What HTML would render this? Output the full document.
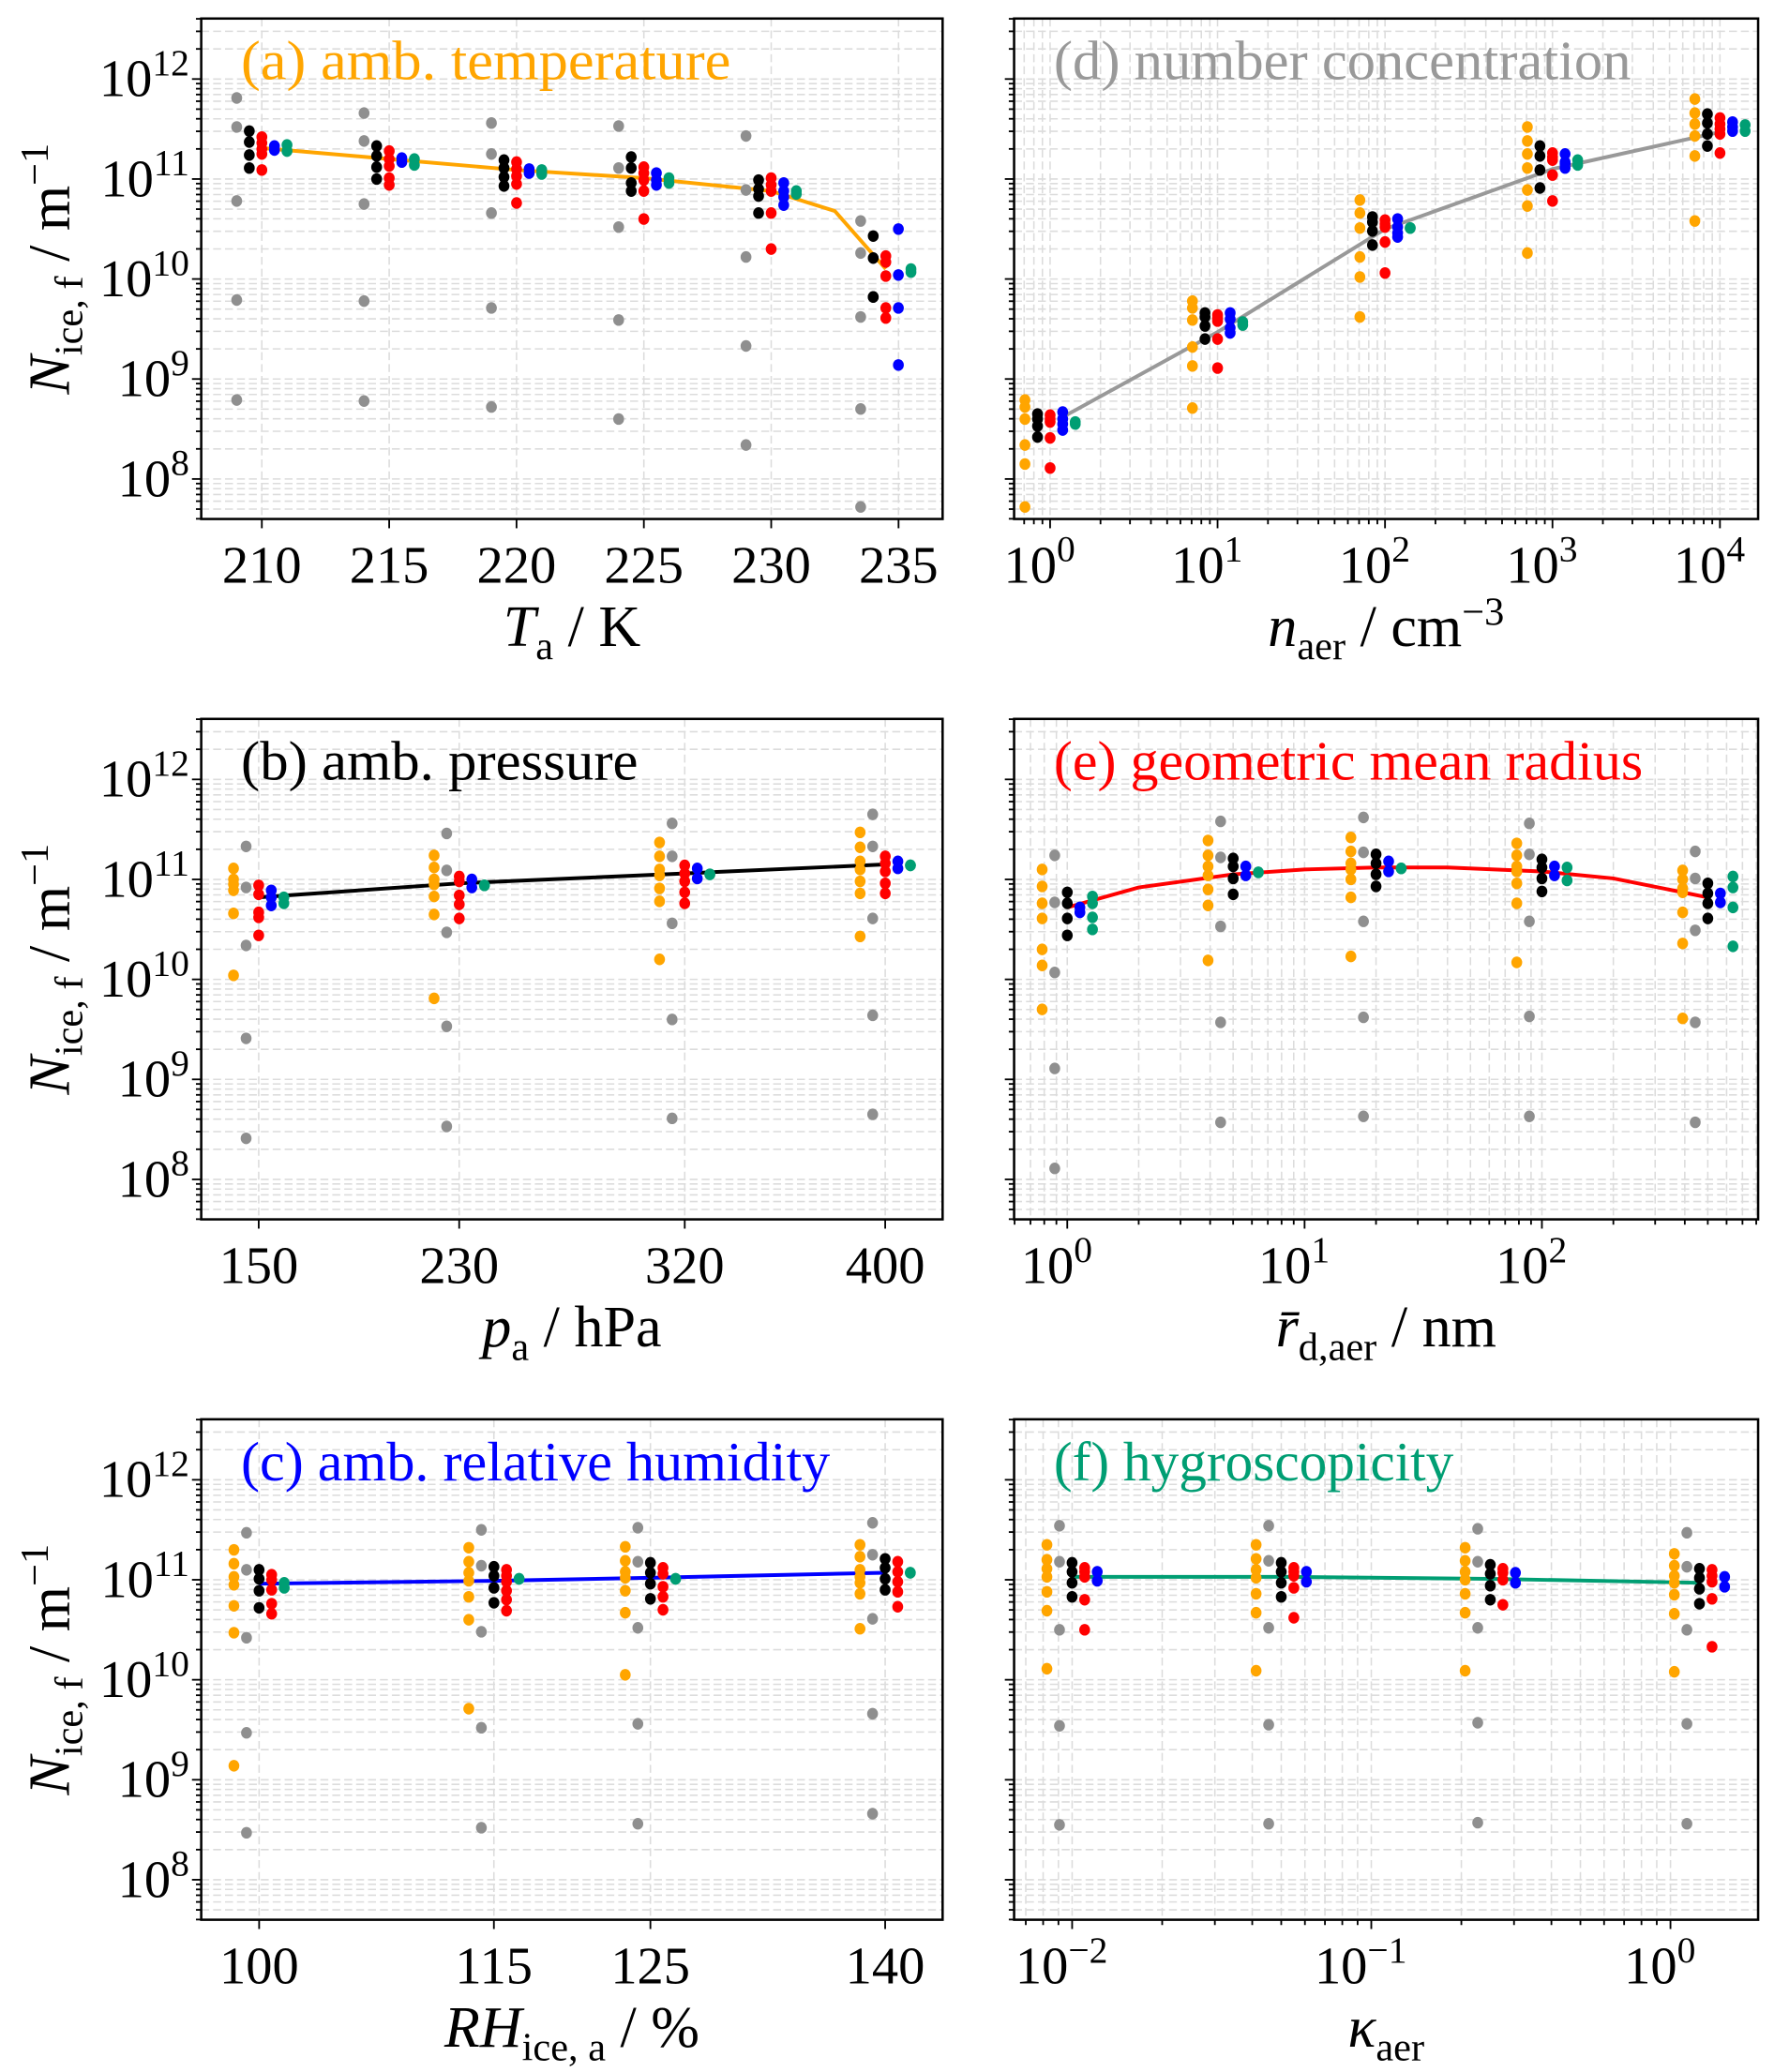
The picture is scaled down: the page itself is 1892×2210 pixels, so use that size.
<!DOCTYPE html>
<html><head><meta charset="utf-8"><style>
html,body{margin:0;padding:0;background:#fff}
svg{display:block}
text{font-family:"Liberation Serif","DejaVu Serif",serif}
</style></head><body>
<svg id="fig" xmlns="http://www.w3.org/2000/svg" width="1892" height="2210" viewBox="0 0 1340 1565" preserveAspectRatio="none"></svg>
<script>
// ---------- data (log10 of N_ice,f) ----------
const aCats=[210,215,220,225,230,234.5];
const aGray=[[11.81,11.52,10.78,9.79,8.79],[11.66,11.38,10.75,9.78,8.78],[11.56,11.25,10.66,9.71,8.72],[11.53,11.11,10.52,9.59,8.60],[11.43,10.89,10.22,9.33,8.34],[10.58,10.26,9.62,8.70,7.72]];
const aBlack=[[11.48,11.37,11.24,11.11],[11.33,11.23,11.12,11.0],[11.19,11.11,11.02,10.93],[11.22,11.11,10.96,10.88],[10.99,10.90,10.83,10.66],[10.43,10.21,9.82,9.82]];
const aRed=[[11.42,11.36,11.30,11.25,11.09],[11.28,11.20,11.13,11.01,10.94],[11.17,11.10,11.03,10.95,10.76],[11.12,11.06,10.99,10.88,10.60],[11.01,10.94,10.88,10.66,10.30],[10.23,10.17,10.03,9.71,9.61]];
const aBlue=[[11.33,11.29],[11.21,11.17],[11.10,11.06],[11.06,10.99,10.94],[10.96,10.88,10.82,10.74],[10.50,10.04,9.71,9.14]];
const aGreen=[[11.34,11.28],[11.20,11.14],[11.09,11.05],[11.01,10.96],[10.88,10.85],[10.10,10.07]];
const aLineX=[210,215,220,225,230,232.5,234.5];
const aLineY=[11.31,11.20,11.09,11.01,10.88,10.68,10.10];

const dCats=[1,10,100,1000,10000];
const dOrange=[[8.79,8.72,8.60,8.34,8.15,7.72],[9.78,9.71,9.59,9.32,9.13,8.71],[10.79,10.66,10.51,10.22,10.02,9.62],[11.52,11.38,11.25,11.11,10.89,10.73,10.26],[11.80,11.66,11.55,11.43,11.23,10.58]];
const dBlack=[[8.65,8.60,8.53,8.42],[9.66,9.62,9.53,9.40],[10.62,10.57,10.48,10.34],[11.33,11.23,11.09,10.91],[11.65,11.56,11.45,11.33]];
const dRed=[[8.64,8.60,8.57,8.41,8.11],[9.64,9.61,9.58,9.40,9.11],[10.59,10.55,10.52,10.37,10.06],[11.26,11.22,11.19,11.04,10.78],[11.61,11.55,11.50,11.45,11.26]];
const dBlue=[[8.67,8.60,8.55,8.49],[9.66,9.60,9.51,9.46],[10.60,10.52,10.46,10.42],[11.25,11.17,11.15,11.11],[11.57,11.52,11.48]];
const dGreen=[[8.57,8.55],[9.57,9.54],[10.51,10.51],[11.19,11.14],[11.54,11.48]];
const dLineX=[1.25,10,100,1000,10000];
const dLineY=[8.64,9.47,10.50,11.10,11.47];

const bCats=[150,230,320,400];
const bOrange=[[11.11,11.00,10.95,10.89,10.66,10.04],[11.24,11.12,11.00,10.95,10.83,10.65,9.81],[11.37,11.23,11.10,11.04,10.91,10.78,10.20],[11.47,11.32,11.18,11.10,10.98,10.86,10.43]];
const bGray=[[11.33,10.92,10.34,9.41,8.41],[11.46,11.09,10.47,9.53,8.53],[11.56,11.23,10.56,9.60,8.61],[11.65,11.33,10.61,9.64,8.65]];
const bRed=[[10.94,10.85,10.67,10.62,10.44],[11.03,10.98,10.84,10.75,10.61],[11.14,11.06,10.98,10.87,10.76],[11.23,11.16,11.08,10.96,10.86]];
const bBlue=[[10.89,10.82,10.74],[11.00,10.92],[11.11,11.01],[11.18,11.11]];
const bGreen=[[10.82,10.76],[10.94,10.94],[11.05,11.05],[11.14,11.14]];
const bLineX=[150,230,320,400];
const bLineY=[10.82,10.96,11.06,11.15];

const eCats=[1,5,20,100,500];
const eOrange=[[11.10,10.93,10.76,10.61,10.30,10.14,9.70],[11.39,11.24,11.13,11.04,10.90,10.74,10.19],[11.42,11.28,11.16,11.10,11.00,10.82,10.23],[11.36,11.24,11.13,11.08,10.96,10.76,10.17],[11.09,11.00,10.91,10.87,10.67,10.36,9.61]];
const eGray=[[11.24,10.77,10.07,9.11,8.11],[11.58,11.22,10.53,9.57,8.57],[11.62,11.27,10.58,9.62,8.63],[11.56,11.25,10.58,9.63,8.63],[11.28,11.01,10.49,9.57,8.57]];
const eBlack=[[10.87,10.76,10.61,10.44],[11.21,11.13,11.01,10.85],[11.25,11.16,11.05,10.93],[11.20,11.12,11.01,10.88],[10.96,10.86,10.76,10.61]];
const eBlue=[[10.72,10.67],[11.13,11.04],[11.18,11.08],[11.13,11.04],[10.86,10.77]];
const eGreen=[[10.83,10.76,10.62,10.50],[11.07,11.07],[11.11,11.11],[11.12,10.99],[11.03,10.92,10.72,10.33]];
const eLineX=[1,2,5,10,20,40,100,200,500];
const eLineY=[10.72,10.92,11.05,11.10,11.12,11.12,11.08,11.01,10.82];

const cCats=[100,115,125,140];
const cOrange=[[11.30,11.16,11.03,10.95,10.74,10.47,9.14],[11.32,11.18,11.07,10.99,10.83,10.60,9.71],[11.33,11.19,11.08,11.02,10.89,10.67,10.05],[11.35,11.23,11.10,11.03,10.97,10.86,10.51]];
const cGray=[[11.47,11.10,10.42,9.47,8.47],[11.50,11.14,10.48,9.52,8.52],[11.52,11.18,10.52,9.56,8.56],[11.57,11.25,10.61,9.66,8.66]];
const cBlack=[[11.10,11.01,10.89,10.72],[11.13,11.04,10.92,10.77],[11.17,11.07,10.96,10.81],[11.21,11.12,11.01,10.90]];
const cRed=[[11.05,11.00,10.90,10.76,10.66],[11.10,11.04,10.98,10.89,10.80,10.69],[11.12,11.06,10.93,10.83,10.70],[11.18,11.08,10.98,10.88,10.73]];
const cGreen=[[10.97,10.92],[11.01,11.01],[11.01,11.01],[11.07,11.07]];
const cLineX=[100,115,125,140];
const cLineY=[10.96,10.99,11.02,11.07];

const fCats=[0.01,0.05,0.25,1.25];
const fOrange=[[11.35,11.20,11.11,11.03,10.88,10.69,10.11],[11.35,11.21,11.10,11.02,10.86,10.67,10.09],[11.32,11.19,11.08,11.00,10.86,10.67,10.09],[11.26,11.14,11.04,10.97,10.85,10.66,10.08]];
const fGray=[[11.54,11.18,10.50,9.54,8.55],[11.54,11.19,10.52,9.55,8.56],[11.51,11.18,10.52,9.57,8.57],[11.47,11.13,10.50,9.56,8.56]];
const fBlack=[[11.17,11.08,10.97,10.83],[11.17,11.08,10.97,10.83],[11.15,11.06,10.94,10.80],[11.11,11.02,10.91,10.76]];
const fRed=[[11.12,11.08,11.03,10.80,10.50],[11.12,11.08,11.04,10.92,10.62],[11.11,11.07,11.00,10.75],[11.10,11.04,10.98,10.81,10.33]];
const fBlue=[[11.08,10.99],[11.08,10.98],[11.07,10.97],[11.03,10.93]];
const fLineX=[0.01,0.05,0.25,1.25];
const fLineY=[11.03,11.03,11.01,10.97];

// ---------- drawing ----------
const NS='http://www.w3.org/2000/svg';
const svg=document.getElementById('fig');
const COL={orange:'#ffa500',gray:'#8f8f8f',black:'#000000',red:'#ff0000',blue:'#0000ff',green:'#009e73'};
const Y0=7.60,Y1=12.605,H=378;
function mk(tag,attrs,parent){const e=document.createElementNS(NS,tag);for(const k in attrs)e.setAttribute(k,attrs[k]);(parent||svg).appendChild(e);return e;}

function panel(p){
  const g=mk('g',{});
  
  
  const L=p.left,W=p.width,T=p.top,B=T+H;
  const ys=v=>T+(Y1-v)/(Y1-Y0)*H;
  const xs=p.log?(v=>L+(Math.log10(v)-p.x0)/(p.x1-p.x0)*W):(v=>L+(v-p.x0)/(p.x1-p.x0)*W);
  const grid=mk('g',{stroke:'#dcdcdc','stroke-width':1.1,'stroke-dasharray':'6,3',fill:'none'},g);
  
  
  const yt=mk('g',{stroke:'#000','stroke-width':1.3},g);
  
  
  for(let d=7;d<=12;d++)for(let m=1;m<=9;m++){
    const lv=d+Math.log10(m); if(lv<Y0||lv>Y1)continue;
    const y=ys(lv);
    mk('line',{x1:L,x2:L+W,y1:y,y2:y},grid);
    mk('line',{x1:L-(m===1?7:4),x2:L,y1:y,y2:y},yt);
    if(m===1&&p.showY){
      const t=mk('text',{x:L-9,y:y+13,'text-anchor':'end','font-size':40},g);
      
      
      t.appendChild(document.createTextNode('10'));
      const s=mk('tspan',{dy:-16,'font-size':28},t); s.textContent=String(d);
    }
  }
  if(p.log){
    for(let d=Math.floor(p.x0);d<=Math.ceil(p.x1);d++)for(let m=1;m<=9;m++){
      const lv=d+Math.log10(m); if(lv<p.x0||lv>p.x1)continue;
      const x=L+(lv-p.x0)/(p.x1-p.x0)*W;
      mk('line',{x1:x,x2:x,y1:T,y2:B},grid);
      mk('line',{x1:x,x2:x,y1:B,y2:B+(m===1?7:4)},yt);
      if(m===1){
        const t=mk('text',{x:x-8,y:B+48,'text-anchor':'middle','font-size':40},g);
        
        
        t.appendChild(document.createTextNode('10'));
        const s=mk('tspan',{dy:-16,'font-size':28},t); s.textContent=(d<0?'\u2212':'')+Math.abs(d);
      }
    }
  } else {
    p.ticks.forEach(v=>{
      const x=xs(v);
      mk('line',{x1:x,x2:x,y1:T,y2:B},grid);
      mk('line',{x1:x,x2:x,y1:B,y2:B+7},yt);
      const t=mk('text',{x:x,y:B+48,'text-anchor':'middle','font-size':40},g);
      
      
      t.textContent=String(v);
    });
  }
  const ti=mk('text',{x:L+30,y:T+46,'font-size':42,fill:p.titleColor,textLength:p.titleW,lengthAdjust:'spacingAndGlyphs'},g);
  
  
  ti.textContent=p.title;
  const pts=p.lineX.map((x,i)=>xs(x).toFixed(1)+','+ys(p.lineY[i]).toFixed(1)).join(' ');
  const ln=mk('polyline',{points:pts,fill:'none',stroke:p.titleColor,'stroke-width':2.8},g);
  
  
  p.series.forEach((s,k)=>{
    const sg=mk('g',{fill:COL[s.c]},g);
    
    
    p.cats.forEach((cv,i)=>{
      const cx=xs(cv)+(k-2)*9.5;
      (s.v[i]||[]).forEach(v=>{
        const c=mk('ellipse',{cx:cx.toFixed(1),cy:ys(v).toFixed(1),rx:4.1,ry:4.4},sg);
        
        
      });
    });
  });
  const fr=mk('rect',{x:L,y:T,width:W,height:H,fill:'none',stroke:'#000','stroke-width':1.8},g);
  
  
  if(p.showY){
    const cy=T+H/2;
    const yl=mk('text',{transform:`translate(52,${cy}) rotate(-90)`,'text-anchor':'middle','font-size':44},g);
    
    
    yl.innerHTML='<tspan font-style="italic">N</tspan><tspan font-size="30" dy="10">ice, f</tspan><tspan dy="-10"> / m</tspan><tspan font-size="30" dy="-16">\u22121</tspan>';
  }
  const xl=mk('text',{x:L+W/2,y:B+96,'text-anchor':'middle','font-size':44},g);
  
  
  xl.innerHTML=p.xlabel;
}

const ROW=[14,543,1072];
panel({name:'panel-a-temperature',showY:true,left:152,width:560,top:ROW[0],log:false,x0:207.62,x1:236.73,ticks:[210,215,220,225,230,235],
  title:'(a) amb. temperature',titleW:370,titleColor:COL.orange,cats:aCats,lineX:aLineX,lineY:aLineY,
  series:[{c:'gray',v:aGray},{c:'black',v:aBlack},{c:'red',v:aRed},{c:'blue',v:aBlue},{c:'green',v:aGreen}],
  xlabel:'<tspan font-style="italic">T</tspan><tspan font-size="30" dy="10">a</tspan><tspan dy="-10"> / K</tspan>'});
panel({name:'panel-d-number-concentration',showY:false,left:766,width:562,top:ROW[0],log:true,x0:-0.215,x1:4.228,
  title:'(d) number concentration',titleW:436,titleColor:'#999999',cats:dCats,lineX:dLineX,lineY:dLineY,
  series:[{c:'orange',v:dOrange},{c:'black',v:dBlack},{c:'red',v:dRed},{c:'blue',v:dBlue},{c:'green',v:dGreen}],
  xlabel:'<tspan font-style="italic">n</tspan><tspan font-size="30" dy="10">aer</tspan><tspan dy="-10"> / cm</tspan><tspan font-size="30" dy="-16">\u22123</tspan>'});
panel({name:'panel-b-pressure',showY:true,left:152,width:560,top:ROW[1],log:false,x0:127.06,x1:422.9,ticks:[150,230,320,400],
  title:'(b) amb. pressure',titleW:300,titleColor:'#000000',cats:bCats,lineX:bLineX,lineY:bLineY,
  series:[{c:'orange',v:bOrange},{c:'gray',v:bGray},{c:'red',v:bRed},{c:'blue',v:bBlue},{c:'green',v:bGreen}],
  xlabel:'<tspan font-style="italic">p</tspan><tspan font-size="30" dy="10">a</tspan><tspan dy="-10"> / hPa</tspan>'});
panel({name:'panel-e-radius',showY:false,left:766,width:562,top:ROW[1],log:true,x0:-0.224,x1:2.911,
  title:'(e) geometric mean radius',titleW:445,titleColor:COL.red,cats:eCats,lineX:eLineX,lineY:eLineY,
  series:[{c:'orange',v:eOrange},{c:'gray',v:eGray},{c:'black',v:eBlack},{c:'blue',v:eBlue},{c:'green',v:eGreen}],
  xlabel:'<tspan font-style="italic">r\u0304</tspan><tspan font-size="30" dy="10">d,aer</tspan><tspan dy="-10"> / nm</tspan>'});
panel({name:'panel-c-humidity',showY:true,left:152,width:560,top:ROW[2],log:false,x0:96.30,x1:143.67,ticks:[100,115,125,140],
  title:'(c) amb. relative humidity',titleW:445,titleColor:COL.blue,cats:cCats,lineX:cLineX,lineY:cLineY,
  series:[{c:'orange',v:cOrange},{c:'gray',v:cGray},{c:'black',v:cBlack},{c:'red',v:cRed},{c:'green',v:cGreen}],
  xlabel:'<tspan font-style="italic">RH</tspan><tspan font-size="30" dy="10">ice, a</tspan><tspan dy="-10"> / %</tspan>'});
panel({name:'panel-f-hygroscopicity',showY:false,left:766,width:562,top:ROW[2],log:true,x0:-2.194,x1:0.293,
  title:'(f) hygroscopicity',titleW:302,titleColor:COL.green,cats:fCats,lineX:fLineX,lineY:fLineY,
  series:[{c:'orange',v:fOrange},{c:'gray',v:fGray},{c:'black',v:fBlack},{c:'red',v:fRed},{c:'blue',v:fBlue}],
  xlabel:'<tspan font-style="italic">\u03BA</tspan><tspan font-size="30" dy="10">aer</tspan>'});
</script>
</body></html>
